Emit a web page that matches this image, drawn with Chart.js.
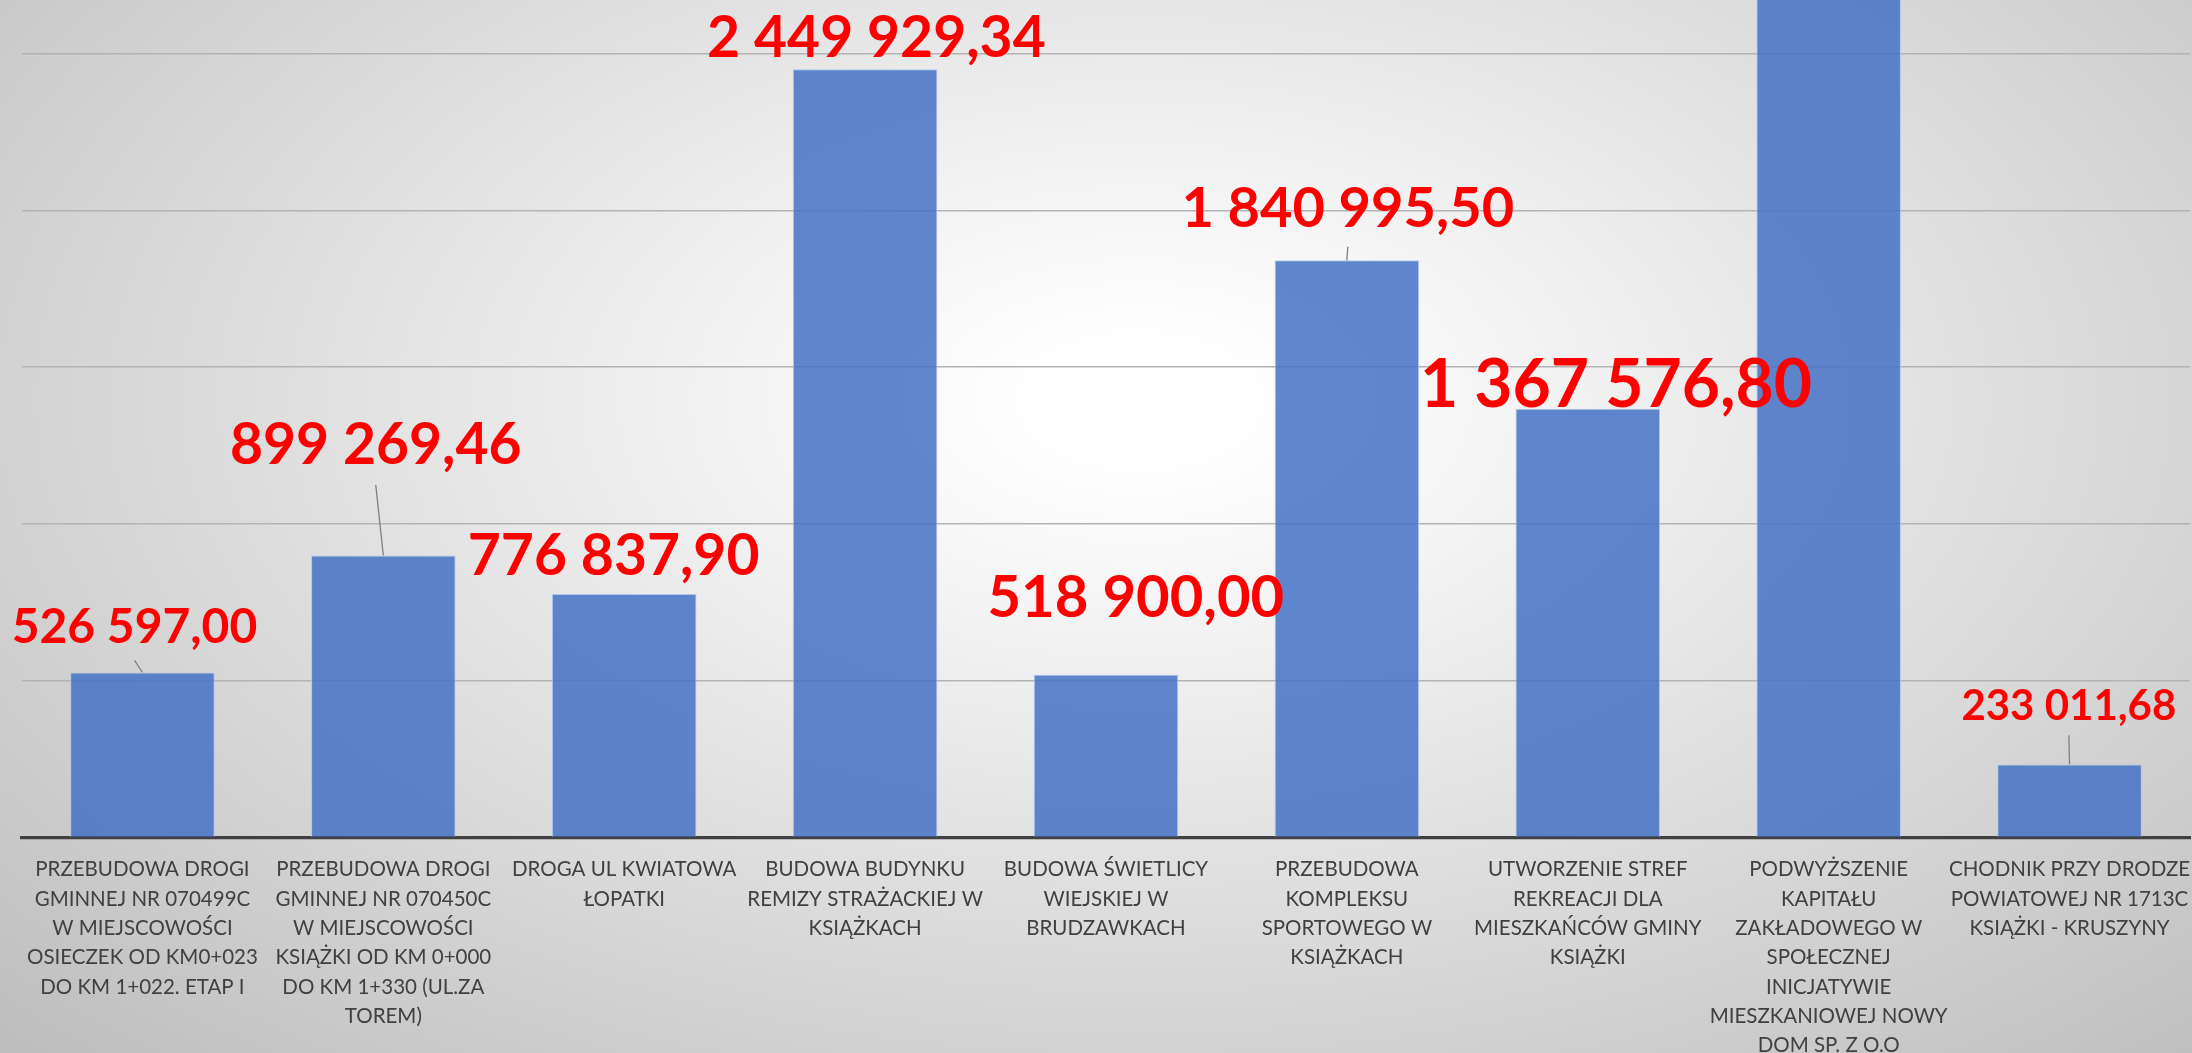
<!DOCTYPE html>
<html>
<head>
<meta charset="utf-8">
<script src="https://cdn.jsdelivr.net/npm/chart.js@4/dist/chart.umd.min.js"></script>
<style>
  html, body { margin: 0; padding: 0; overflow: hidden; }
  #wrap {
    position: relative; width: 2192px; height: 1053px;
    background: radial-gradient(ellipse farthest-corner at 52% 38%, #ffffff 6%, #f3f3f3 25%, #bdbdbd 100%);
  }
  canvas { display: block; }
</style>
</head>
<body>
<div id="wrap"><canvas id="c" width="2192" height="1053"></canvas></div>
<script>
// ---- data ----
const categories = [
  ["PRZEBUDOWA DROGI", "GMINNEJ NR 070499C", "W MIEJSCOWOŚCI", "OSIECZEK OD KM0+023", "DO KM 1+022. ETAP I"],
  ["PRZEBUDOWA DROGI", "GMINNEJ NR 070450C", "W MIEJSCOWOŚCI", "KSIĄŻKI OD KM 0+000", "DO KM 1+330 (UL.ZA", "TOREM)"],
  ["DROGA UL KWIATOWA", "ŁOPATKI"],
  ["BUDOWA BUDYNKU", "REMIZY STRAŻACKIEJ W", "KSIĄŻKACH"],
  ["BUDOWA ŚWIETLICY", "WIEJSKIEJ W", "BRUDZAWKACH"],
  ["PRZEBUDOWA", "KOMPLEKSU", "SPORTOWEGO W", "KSIĄŻKACH"],
  ["UTWORZENIE STREF", "REKREACJI DLA", "MIESZKAŃCÓW GMINY", "KSIĄŻKI"],
  ["PODWYŻSZENIE", "KAPITAŁU", "ZAKŁADOWEGO W", "SPOŁECZNEJ", "INICJATYWIE", "MIESZKANIOWEJ NOWY", "DOM SP. Z O.O"],
  ["CHODNIK PRZY DRODZE", "POWIATOWEJ NR 1713C", "KSIĄŻKI - KRUSZYNY"]
];
// 8th bar runs off the top of the picture; its value is not readable (estimate)
const values = [526597.00, 899269.46, 776837.90, 2449929.34, 518900.00, 1840995.50, 1367576.80, 3000000.00, 233011.68];
const yMin = 0;
const yMax = 2671000;
const yTickValues = [0, 500000, 1000000, 1500000, 2000000, 2500000];

// ---- data label layout (style/position, not data) ----
const labelFontSize = [48, 57, 57, 57, 58, 56, 66, 57, 42];
const labelDx = [-8, -7.6, -10.6, 11.3, 29.8, 0.9, 28.2, 0, -0.7];
const labelDy = [-29.4, -91.2, -19, -12.1, -58, -33.6, -1.7, -10, -44.4];
const labelLeader = [true, true, false, false, false, true, false, false, true];

function formatPL(v) {
  const parts = v.toFixed(2).split('.');
  const intPart = parts[0].replace(/\B(?=(\d{3})+(?!\d))/g, ' ');
  return intPart + ',' + parts[1];
}

const dataLabelPlugin = {
  id: 'dataLabels',
  afterDatasetsDraw(chart) {
    const ctx = chart.ctx;
    const meta = chart.getDatasetMeta(0);
    const yScale = chart.scales.y;
    ctx.save();
    meta.data.forEach((bar, i) => {
      const v = values[i];
      if (v > yScale.max) return; // label lies outside the picture
      const size = labelFontSize[i];
      const tx = bar.x + labelDx[i];
      const ty = bar.y + labelDy[i];
      if (labelLeader[i]) {
        ctx.beginPath();
        ctx.strokeStyle = '#808080';
        ctx.lineWidth = 1.3;
        ctx.moveTo(tx, ty + 0.36 * size);
        ctx.lineTo(bar.x, bar.y);
        ctx.stroke();
      }
      ctx.font = 'bold ' + size + 'px Lato';
      ctx.fillStyle = '#ff0000';
      ctx.textAlign = 'center';
      ctx.textBaseline = 'alphabetic';
      ctx.fillText(formatPL(v), tx, ty);
    });
    ctx.restore();
  }
};

Chart.defaults.font.family = 'Lato';

new Chart(document.getElementById('c'), {
  type: 'bar',
  data: {
    labels: categories,
    datasets: [{
      data: values,
      backgroundColor: 'rgba(68,114,196,0.85)',
      borderColor: 'rgba(170,195,235,0.9)',
      borderWidth: 1,
      barPercentage: 0.6,
      categoryPercentage: 1.0
    }]
  },
  options: {
    responsive: false,
    devicePixelRatio: 1,
    animation: false,
    layout: { padding: { left: 0, right: 2, top: 0, bottom: 0 } },
    plugins: { legend: { display: false }, tooltip: { enabled: false } },
    scales: {
      x: {
        grid: { display: false, drawTicks: false },
        border: { display: true, color: '#404040', width: 3.3 },
        ticks: {
          color: '#404040',
          font: { family: 'Lato', size: 20.5, lineHeight: '29.3px' },
          padding: 17.7,
          autoSkip: false,
          maxRotation: 0,
          minRotation: 0
        },
        afterFit: s => { s.height = 215.5; s.paddingLeft = 0; s.paddingRight = 0; }
      },
      y: {
        min: yMin,
        max: yMax,
        ticks: { display: false },
        afterBuildTicks: s => { s.ticks = yTickValues.map(v => ({ value: v })); },
        grid: { color: '#b3b3b3', lineWidth: 1.5, drawTicks: false },
        border: { display: false },
        afterFit: s => { s.width = 22; }
      }
    }
  },
  plugins: [dataLabelPlugin]
});
</script>
</body>
</html>
